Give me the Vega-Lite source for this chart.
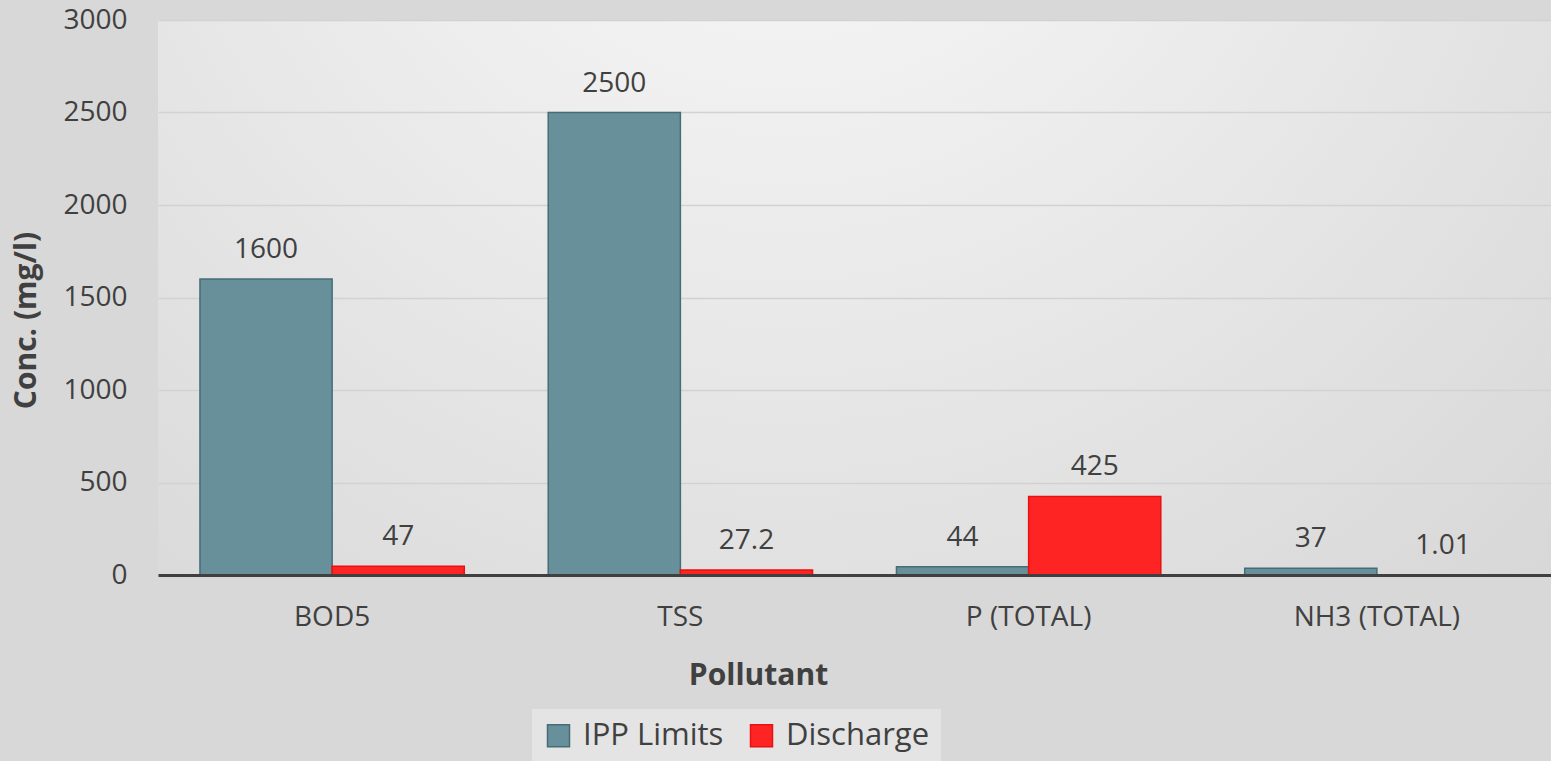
{
  "$schema": "https://vega.github.io/schema/vega-lite/v6.json",
  "width": 1393,
  "height": 555,
  "autosize": {"type": "none"},
  "padding": {"left": 158, "top": 20, "right": 0, "bottom": 186},
  "background": "#d8d8d8",
  "config": {
    "font": "Open Sans",
    "view": {
      "stroke": null,
      "fill": {
        "gradient": "radial",
        "x1": 0.45, "y1": 0.1, "r1": 0,
        "x2": 0.45, "y2": 0.1, "r2": 0.8,
        "stops": [
          {"offset": 0, "color": "#fbfbfb"},
          {"offset": 1, "color": "#d8d8d8"}
        ]
      }
    }
  },
  "data": {
    "values": [
      {"pollutant": "BOD5", "series": "IPP Limits", "value": 1600, "label": "1600"},
      {"pollutant": "BOD5", "series": "Discharge", "value": 47, "label": "47"},
      {"pollutant": "TSS", "series": "IPP Limits", "value": 2500, "label": "2500"},
      {"pollutant": "TSS", "series": "Discharge", "value": 27.2, "label": "27.2"},
      {"pollutant": "P (TOTAL)", "series": "IPP Limits", "value": 44, "label": "44"},
      {"pollutant": "P (TOTAL)", "series": "Discharge", "value": 425, "label": "425"},
      {"pollutant": "NH3 (TOTAL)", "series": "IPP Limits", "value": 37, "label": "37"},
      {"pollutant": "NH3 (TOTAL)", "series": "Discharge", "value": 1.01, "label": "1.01"}
    ]
  },
  "encoding": {
    "x": {
      "field": "pollutant",
      "type": "nominal",
      "sort": ["BOD5", "TSS", "P (TOTAL)", "NH3 (TOTAL)"],
      "scale": {"paddingInner": 0.241, "paddingOuter": 0.1205},
      "title": "Pollutant",
      "axis": {
        "labelAngle": 0,
        "labelFontSize": 28,
        "labelColor": "#404040",
        "labelPadding": 28,
        "ticks": false,
        "domainColor": "#404040",
        "domainWidth": 3,
        "titleFontSize": 30,
        "titleFontWeight": "bold",
        "titleColor": "#404040",
        "titlePadding": 29,
        "titleX": 600,
        "titleAlign": "center",
        "titleAnchor": null,
        "zindex": 1
      }
    },
    "xOffset": {
      "field": "series",
      "sort": ["IPP Limits", "Discharge"],
      "scale": {"paddingInner": 0, "paddingOuter": 0}
    },
    "y": {
      "field": "value",
      "type": "quantitative",
      "scale": {"domain": [0, 3000]},
      "title": "Conc. (mg/l)",
      "axis": {
        "values": [0, 500, 1000, 1500, 2000, 2500, 3000],
        "format": "d",
        "labelFontSize": 28,
        "labelColor": "#404040",
        "labelPadding": 31,
        "ticks": false,
        "domain": false,
        "gridColor": "#d2d2d2",
        "gridWidth": 1.5,
        "titleFontSize": 30,
        "titleFontWeight": "bold",
        "titleColor": "#404040",
        "titlePadding": 21,
        "titleY": 300,
        "titleAlign": "center"
      }
    }
  },
  "layer": [
    {
      "mark": {"type": "bar", "strokeWidth": 1.5},
      "encoding": {
        "color": {
          "field": "series",
          "type": "nominal",
          "sort": ["IPP Limits", "Discharge"],
          "scale": {"domain": ["IPP Limits", "Discharge"], "range": ["#67909a", "#ff2424"]},
          "legend": {
            "orient": "none",
            "legendX": 374,
            "legendY": 689,
            "direction": "horizontal",
            "title": null,
            "fillColor": "#e4e4e4",
            "padding": 11,
            "symbolType": "square",
            "symbolSize": 484,
            "symbolStrokeWidth": 1.5,
            "labelFontSize": 31,
            "labelColor": "#404040",
            "labelOffset": 9,
            "columnPadding": 22
          }
        },
        "stroke": {
          "field": "series",
          "type": "nominal",
          "sort": ["IPP Limits", "Discharge"],
          "scale": {"domain": ["IPP Limits", "Discharge"], "range": ["#456d77", "#e81010"]},
          "legend": null
        }
      }
    },
    {
      "mark": {"type": "text", "baseline": "middle", "dy": -29, "fontSize": 28, "color": "#404040"},
      "encoding": {"text": {"field": "label"}}
    }
  ]
}
